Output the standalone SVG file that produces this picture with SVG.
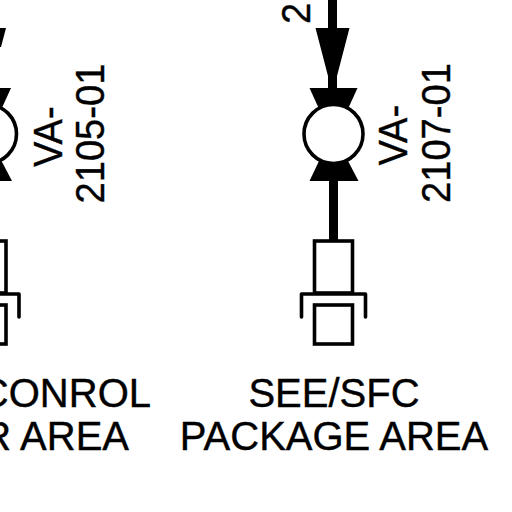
<svg xmlns="http://www.w3.org/2000/svg" width="512" height="512" viewBox="0 0 512 512">
<style>
text{font-family:"Liberation Sans",Arial,sans-serif;fill:#000;font-size:41px;stroke:#000;stroke-width:.4}
.a{font-size:40px}
.o{fill:#fff;stroke:#000;stroke-width:3.6}
.b{fill:none;stroke:#000;stroke-width:3.6;stroke-linecap:round;stroke-linejoin:round}
.l{fill:none;stroke:#000;stroke-width:9}
.s{fill:#000}
</style>
<defs>
<g id="valve">
<path class="s" d="M-24 88H24L14 110H-14Z"/>
<path class="s" d="M-24 181H25L14 160H-14Z"/>
<circle class="o" cx="0" cy="134" r="29.500"/>
</g>
<g id="cap">
<rect class="o" x="-19" y="241" width="38" height="52"/>
<path class="b" d="M-32 317V294H32V317"/>
<rect class="o" x="-19" y="305" width="38" height="39"/>
</g>
</defs>
<g id="connectors">
<path class="l" d="M332.500 0V90"/>
<path class="s" d="M315.500 28H349.500L337 76V90H328V76Z"/>
<path class="l" d="M333.500 178V241"/>
<path class="l" d="M-13 178V241"/>
<path class="s" d="M-2 28H6L1 47H0Z"/>
</g>
<g id="va-2105" transform="translate(-13 0)">
<use href="#valve"/>
<use href="#cap"/>
</g>
<g id="va-2105-label">
<text transform="translate(61.500 167) rotate(-90) scale(.93 1)">VA-</text>
<text transform="translate(104 203.500) rotate(-90) scale(.93 1)">2105-01</text>
</g>
<g id="va-2107" transform="translate(333.500 0)">
<use href="#valve"/>
<use href="#cap"/>
</g>
<g id="va-2107-label">
<text transform="translate(407 165.500) rotate(-90) scale(.93 1)">VA-</text>
<text transform="translate(450 203) rotate(-90) scale(.93 1)">2107-01</text>
<text transform="translate(310 24) rotate(-90) scale(.93 1)">2</text>
</g>
<g id="area-left">
<text class="a" x="151" y="407" text-anchor="end">CONROL</text>
<text class="a" x="129" y="450" text-anchor="end">R AREA</text>
</g>
<g id="area-right">
<text class="a" x="334" y="407" text-anchor="middle">SEE/SFC</text>
<text class="a" x="334" y="449.500" text-anchor="middle">PACKAGE AREA</text>
</g>
</svg>
